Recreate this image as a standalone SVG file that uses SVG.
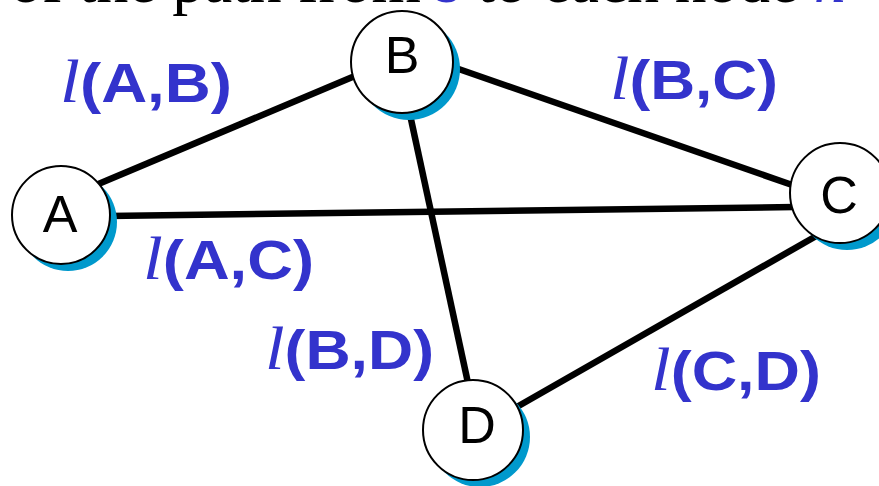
<svg xmlns="http://www.w3.org/2000/svg" width="879" height="486" viewBox="0 0 879 486">
<style>
.edge{stroke:#000;stroke-width:6.5;fill:none}
.shadow{fill:#0099CC;stroke:none}
.node{fill:#fff;stroke:#000;stroke-width:2}
.nlabel{font-family:"Liberation Sans",Arial,sans-serif;font-size:52px;fill:#000;text-anchor:middle}
.elabel{font-family:"Liberation Sans",Arial,sans-serif;font-size:55px;font-weight:bold;fill:#3333CC}
.ell{font-family:"Liberation Serif","Times New Roman",serif;font-style:italic;font-weight:normal;font-size:62px}
.top{font-family:"Liberation Serif","Times New Roman",serif;font-size:63.5px;fill:#000}
.var{fill:#3333CC;font-style:italic}
</style>
<rect width="879" height="486" fill="#fff"/>
<text class="top" x="10" y="2">of the path from <tspan class="var">s</tspan> to each node <tspan class="var">n</tspan></text>
<g id="connectors">
<line class="edge" x1="96" y1="185" x2="362" y2="73"/>
<line class="edge" x1="108" y1="216" x2="795" y2="207"/>
<line class="edge" x1="450" y1="66" x2="798" y2="187"/>
<line class="edge" x1="409" y1="110" x2="468" y2="383"/>
<line class="edge" x1="515" y1="408" x2="818" y2="235"/>
</g>
<g id="node-A">
<circle class="shadow" cx="68" cy="222" r="49"/>
<circle class="node" cx="61" cy="215" r="49"/>
<text class="nlabel" x="60" y="232">A</text>
</g>
<g id="node-B">
<circle class="shadow" cx="409" cy="69" r="51"/>
<circle class="node" cx="402" cy="62" r="51"/>
<text class="nlabel" x="402" y="73">B</text>
</g>
<g id="node-C">
<circle class="shadow" cx="847" cy="200" r="50"/>
<circle class="node" cx="840" cy="193" r="50"/>
<text class="nlabel" x="839" y="213">C</text>
</g>
<g id="node-D">
<circle class="shadow" cx="480" cy="437" r="50"/>
<circle class="node" cx="473" cy="430" r="50"/>
<text class="nlabel" x="477" y="443">D</text>
</g>
<g id="edge-labels">
<text class="elabel" x="60" y="102" textLength="172" lengthAdjust="spacingAndGlyphs"><tspan class="ell">l</tspan>(A,B)</text>
<text class="elabel" x="610" y="99" textLength="168" lengthAdjust="spacingAndGlyphs"><tspan class="ell">l</tspan>(B,C)</text>
<text class="elabel" x="143" y="279" textLength="171" lengthAdjust="spacingAndGlyphs"><tspan class="ell">l</tspan>(A,C)</text>
<text class="elabel" x="265" y="369" textLength="169" lengthAdjust="spacingAndGlyphs"><tspan class="ell">l</tspan>(B,D)</text>
<text class="elabel" x="651" y="390" textLength="170" lengthAdjust="spacingAndGlyphs"><tspan class="ell">l</tspan>(C,D)</text>
</g>
</svg>
